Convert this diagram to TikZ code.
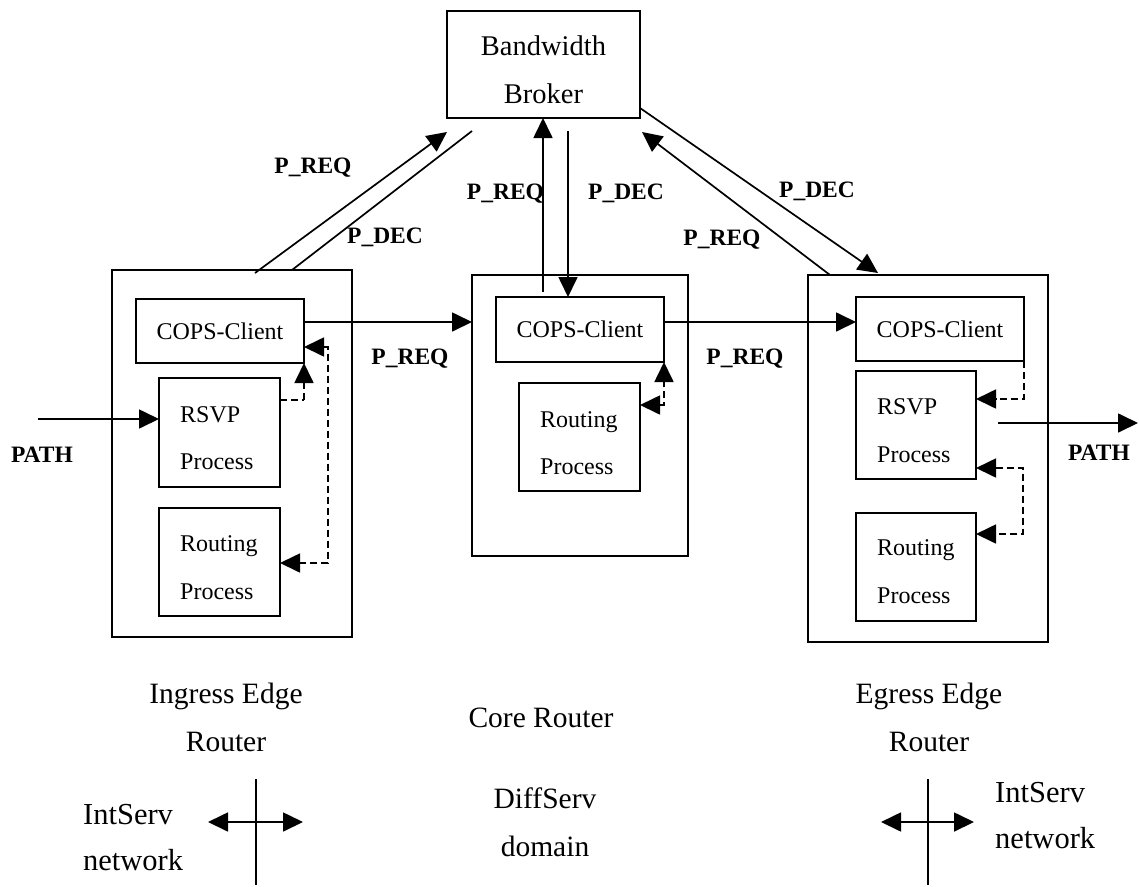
\documentclass[tikz,border=0pt]{standalone}
\usepackage{fontspec}
\setmainfont{Liberation Serif}
\usetikzlibrary{arrows.meta}

\begin{document}
\begin{tikzpicture}[x=1pt,y=-1pt,
  >={Triangle[length=20pt,width=19pt]},
  box/.style={draw, line width=1.7pt, inner sep=0pt, outer sep=0pt},
  boxtext/.style={font=\fontsize{24}{28}\selectfont, inner sep=0pt, anchor=base west},
  brokertext/.style={font=\fontsize{28.5}{32}\selectfont, inner sep=0pt, anchor=base},
  msg/.style={font=\bfseries\fontsize{23.5}{28}\selectfont, inner sep=0pt, anchor=base},
  caption/.style={font=\fontsize{29.5}{34}\selectfont, inner sep=0pt, anchor=base},
  netlabel/.style={font=\fontsize{30.5}{34}\selectfont, inner sep=0pt, anchor=base west},
  arr/.style={->, line width=1.7pt},
  darr/.style={line width=1.7pt, dash pattern=on 7pt off 4pt},
  line/.style={line width=1.7pt}]

\useasboundingbox (0,0) rectangle (1139,886);

% ---------- Bandwidth Broker ----------
\node[box, minimum width=193pt, minimum height=107pt] (broker) at (543.5,64.5) {};
\node[brokertext] (brokerA) at (543.5,55) {Bandwidth};
\node[brokertext] (brokerB) at (543.5,103) {Broker};

% ---------- Ingress edge router ----------
\node[box, minimum width=240pt, minimum height=367pt] (ingress) at (232,453.5) {};
\node[box, minimum width=168pt, minimum height=64pt,
      font=\fontsize{24}{28}\selectfont] (icops) at (220,331) {COPS-Client};
\node[box, minimum width=121pt, minimum height=109pt] (irsvp) at (219.5,432.5) {};
\node[boxtext] (irsvpA) at (180,422) {RSVP};
\node[boxtext] (irsvpB) at (180,469) {Process};
\node[box, minimum width=121pt, minimum height=108pt] (iroute) at (219.5,562) {};
\node[boxtext] (irouteA) at (180,551) {Routing};
\node[boxtext] (irouteB) at (180,599) {Process};

% ---------- Core router ----------
\node[box, minimum width=216pt, minimum height=281pt] (core) at (580,415.5) {};
\node[box, minimum width=168pt, minimum height=65pt,
      font=\fontsize{24}{28}\selectfont] (ccops) at (580,329.5) {COPS-Client};
\node[box, minimum width=121pt, minimum height=108pt] (croute) at (579.5,437) {};
\node[boxtext] (crouteA) at (540,427) {Routing};
\node[boxtext] (crouteB) at (540,474) {Process};

% ---------- Egress edge router ----------
\node[box, minimum width=240pt, minimum height=367pt] (egress) at (928,458.5) {};
\node[box, minimum width=168pt, minimum height=64pt,
      font=\fontsize{24}{28}\selectfont] (ecops) at (940,329) {COPS-Client};
\node[box, minimum width=120pt, minimum height=108pt] (ersvp) at (916,425) {};
\node[boxtext] (ersvpA) at (877,414) {RSVP};
\node[boxtext] (ersvpB) at (877,462) {Process};
\node[box, minimum width=120pt, minimum height=108pt] (eroute) at (916,567) {};
\node[boxtext] (erouteA) at (877,555) {Routing};
\node[boxtext] (erouteB) at (877,603) {Process};

% ---------- end points of the signalling lines ----------
\coordinate (iReqFrom) at (255,273);
\coordinate (iReqTo)   at (447,132);
\coordinate (iDecFrom) at (472,131);
\coordinate (iDecTo)   at (292,270);
\coordinate (cReqFrom) at (543,292);
\coordinate (cDecFrom) at (568,131);
\coordinate (eDecTo)   at (878,273);
\coordinate (eReqFrom) at (830,275);
\coordinate (eReqTo)   at (642,132);
\coordinate (pathIn)   at (38,419);
\coordinate (pathOutA) at (998,423);
\coordinate (pathOutB) at (1138,423);

% broker <-> routers
\draw[arr] (iReqFrom) -- (iReqTo);
\draw[line] (iDecFrom) -- (iDecTo);
\draw[arr] (cReqFrom) -- (cReqFrom |- broker.south);
\draw[arr] (cDecFrom) -- (cDecFrom |- ccops.north);
\draw[arr] (broker.east |- 0,108) -- (eDecTo);
\draw[arr] (eReqFrom) -- (eReqTo);

% COPS-Client chain
\draw[arr] (icops.east |- 0,322) -- (core.west |- 0,322);
\draw[arr] (ccops.east |- 0,322) -- (ecops.west |- 0,322);

% PATH messages
\draw[arr] (pathIn) -- (irsvp.west |- pathIn);
\draw[arr] (pathOutA) -- (pathOutB);

% internal (dashed) interfaces: ingress
\draw[darr] (irsvp.east |- 0,400) -- (icops.east |- 0,400);
\draw[darr, ->] (icops.east |- 0,400) -- (icops.south east);
\draw[darr, <->] (icops.east |- 0,347) -| (328,563) -- (iroute.east |- 0,563);

% internal (dashed) interfaces: core
\draw[darr, <->] (croute.east |- 0,405) -| (ccops.south east);

% internal (dashed) interfaces: egress
\draw[darr, ->] (ecops.south east) |- (ersvp.east |- 0,399);
\draw[darr, <->] (ersvp.east |- 0,468) -| (1023,534) -- (eroute.east |- 0,534);

% message labels
\node[msg] (lIReq) at (313,173) {P\_REQ};
\node[msg] (lIDec) at (385,243) {P\_DEC};
\node[msg] (lCReq) at (505.5,199) {P\_REQ};
\node[msg] (lCDec) at (626,199) {P\_DEC};
\node[msg] (lEDec) at (817,197) {P\_DEC};
\node[msg] (lEReq) at (722,245) {P\_REQ};
\node[msg] (lH1) at (410,364) {P\_REQ};
\node[msg] (lH2) at (745,364) {P\_REQ};
\node[msg] (lPathIn) at (42,462) {PATH};
\node[msg] (lPathOut) at (1099,460) {PATH};

% router captions
\node[caption] (capI1) at (226,703) {Ingress Edge};
\node[caption] (capI2) at (226,751) {Router};
\node[caption] (capC) at (541,727) {Core Router};
\node[caption] (capE1) at (929,703) {Egress Edge};
\node[caption] (capE2) at (929,751) {Router};

% domain boundaries
\node[caption] (dom1) at (545,808) {DiffServ};
\node[caption] (dom2) at (545,856) {domain};
\node[netlabel] (netL1) at (83,824) {IntServ};
\node[netlabel] (netL2) at (83,870) {network};
\node[netlabel] (netR1) at (995,802) {IntServ};
\node[netlabel] (netR2) at (995,848) {network};

\coordinate (bLtop) at (256,779);
\coordinate (bLbot) at (256,885);
\coordinate (bLa) at (208,822);
\coordinate (bLb) at (303,822);
\coordinate (bRtop) at (928,779);
\coordinate (bRbot) at (928,885);
\coordinate (bRa) at (881,822);
\coordinate (bRb) at (974,822);
\draw[line] (bLtop) -- (bLbot);
\draw[line, <->] (bLa) -- (bLb);
\draw[line] (bRtop) -- (bRbot);
\draw[line, <->] (bRa) -- (bRb);
\end{tikzpicture}
\end{document}
